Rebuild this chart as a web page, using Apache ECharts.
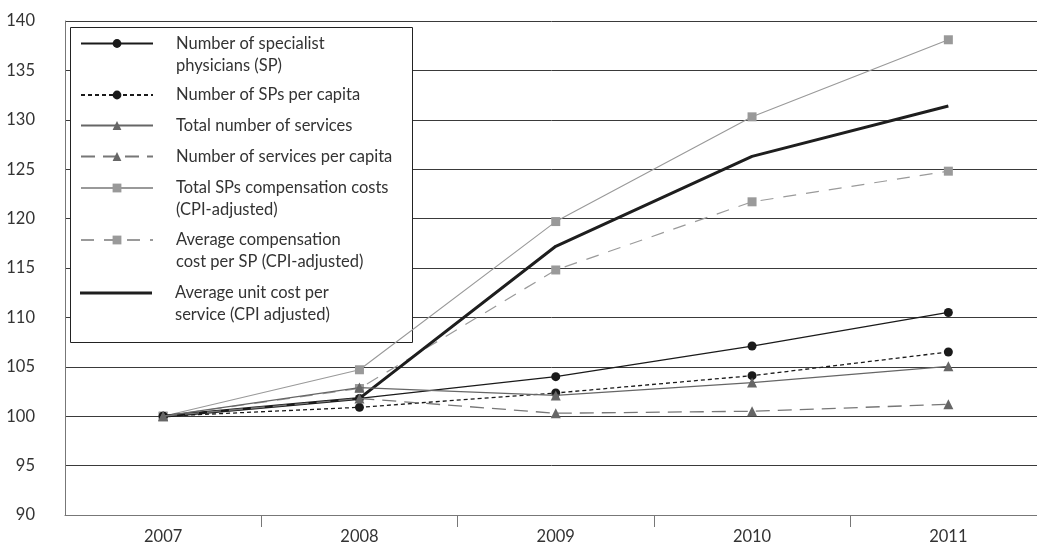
<!DOCTYPE html>
<html>
<head>
<meta charset="utf-8">
<script src="https://cdn.jsdelivr.net/npm/echarts@6/dist/echarts.min.js"></script>
<style>
html,body{margin:0;padding:0;background:#fff;}
#chart{width:1037px;height:545px;}
</style>
</head>
<body>
<div id="chart"></div>
<script>
// ---- data ----
const years = ['2007', '2008', '2009', '2010', '2011'];
const seriesNames = [
  'Number of specialist\nphysicians (SP)',
  'Number of SPs per capita',
  'Total number of services',
  'Number of services per capita',
  'Total SPs compensation costs\n(CPI-adjusted)',
  'Average compensation\ncost per SP (CPI-adjusted)',
  'Average unit cost per\nservice (CPI adjusted)'
];
const specialists = [100, 101.8, 104.0, 107.1, 110.5];
const specialistsPerCapita = [100, 100.9, 102.35, 104.1, 106.5];
const services = [100, 102.9, 102.1, 103.4, 105.05];
const servicesPerCapita = [100, 101.8, 100.3, 100.5, 101.2];
const totalCompensation = [100, 104.7, 119.7, 130.3, 138.1];
const avgCompensation = [100, 102.8, 114.8, 121.7, 124.8];
const unitCost = [100, 101.8, 117.2, 126.3, 131.4];
const yMin = 90, yMax = 140, yStep = 5;

// ---- styles ----
const FONT = 'Lato';
const FS = 16.5;
const styles = [
  {data: specialists, color: '#1a1a1a', width: 1.3, type: 'solid', symbol: 'circle', size: 9, z: 4},
  {data: specialistsPerCapita, color: '#1a1a1a', width: 1.3, type: [4, 3], symbol: 'circle', size: 9, z: 4},
  {data: services, color: '#666', width: 1.3, type: 'solid', symbol: 'triangle', size: 10, z: 5},
  {data: servicesPerCapita, color: '#777', sym: '#666', width: 1.3, type: [14, 8], symbol: 'triangle', size: 10, z: 5},
  {data: totalCompensation, color: '#999', width: 1.1, type: 'solid', symbol: 'rect', size: 9, z: 2},
  {data: avgCompensation, color: '#9a9a9a', width: 1.2, type: [13, 10], symbol: 'rect', size: 9, z: 2},
  {data: unitCost, color: '#1e1e1e', width: 3, type: 'solid', symbol: 'none', size: 0, z: 3}
];
const iconY = [43.5, 95, 125.5, 156.5, 188, 240, 293];
const LH = 22;

const chart = echarts.init(document.getElementById('chart'), null, {renderer: 'canvas'});

const series = seriesNames.map((name, i) => {
  const s = styles[i];
  return {
    name: name,
    type: 'line',
    data: s.data,
    z: s.z,
    symbol: s.symbol,
    symbolSize: s.size,
    showSymbol: s.symbol !== 'none',
    lineStyle: {color: s.color, width: s.width, type: s.type},
    itemStyle: {color: s.sym || s.color},
    emphasis: {disabled: true},
    animation: false
  };
});

const legends = seriesNames.map((name, i) => {
  const twoLine = name.indexOf('\n') >= 0;
  const noSymbol = styles[i].symbol === 'none';
  const item = {name: name};
  if (noSymbol) item.icon = 'rect';
  return {
    data: [item],
    left: 80,
    top: iconY[i] - (twoLine ? 1.5 * LH : LH / 2),
    padding: 0,
    itemWidth: 72,
    itemHeight: noSymbol ? 3 : 11,
    selectedMode: false,
    z: 10,
    formatter: function (n) { return twoLine ? '\n' + n : n; },
    textStyle: {
      fontFamily: FONT,
      fontSize: FS,
      lineHeight: LH,
      color: '#333',
      padding: [0, 0, 0, 18]
    }
  };
});

const option = {
  backgroundColor: '#fff',
  animation: false,
  grid: {left: 65, width: 981.5, top: 21, bottom: 30, containLabel: false, outerBoundsMode: 'none'},
  xAxis: {
    type: 'category',
    data: years,
    boundaryGap: true,
    axisLine: {lineStyle: {color: '#777', width: 1}},
    axisTick: {
      show: true,
      length: 12,
      inside: false,
      lineStyle: {color: '#777'},
      interval: function (idx) { return idx !== 0; }
    },
    axisLabel: {fontFamily: FONT, fontSize: FS, color: '#333', margin: 13}
  },
  yAxis: {
    type: 'value',
    min: yMin,
    max: yMax,
    interval: yStep,
    axisLine: {show: true, lineStyle: {color: '#777', width: 1}},
    axisTick: {show: false},
    splitLine: {show: true, lineStyle: {color: '#3a3a3a', width: 1}},
    axisLabel: {fontFamily: FONT, fontSize: FS, color: '#333', margin: 30}
  },
  graphic: [{
    type: 'rect',
    z: 1,
    shape: {x: 70.5, y: 27.5, width: 342, height: 315},
    style: {fill: '#fff', stroke: '#222', lineWidth: 1}
  }],
  legend: legends,
  series: series
};
chart.setOption(option);
</script>
</body>
</html>
